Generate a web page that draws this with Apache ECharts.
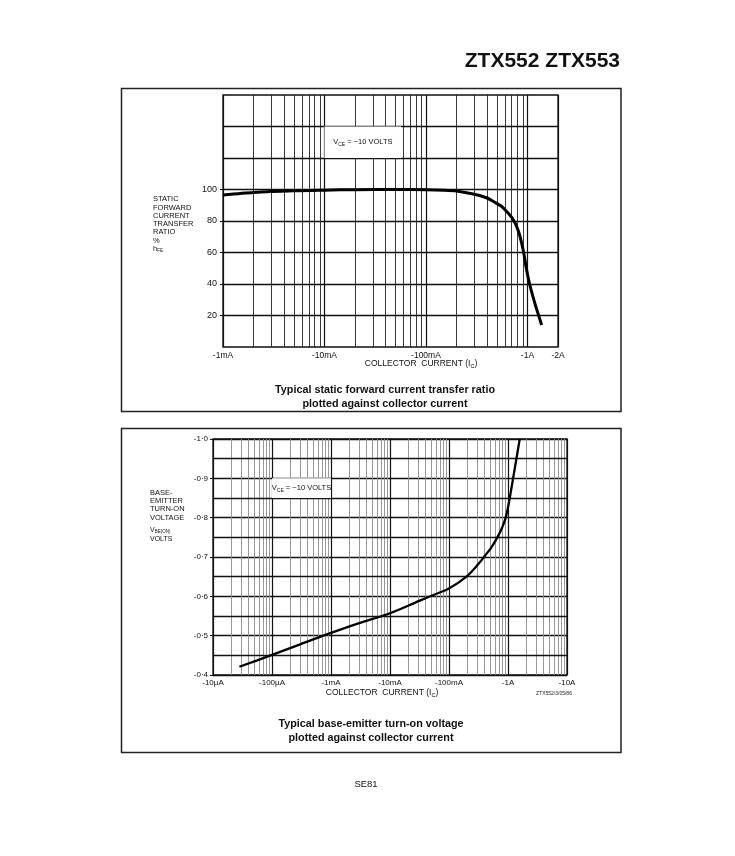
<!DOCTYPE html>
<html>
<head>
<meta charset="utf-8">
<script src="https://cdn.jsdelivr.net/npm/echarts@6/dist/echarts.min.js"></script>
<style>
  html, body { margin: 0; padding: 0; background: #fff; }
  #main { width: 735px; height: 856px; }
</style>
</head>
<body>
<div id="main"></div>
<script>
// hFE curve (collector current magnitude in A, ratio in %)
var hfeCurrent = [0.001, 0.002, 0.005, 0.01, 0.02, 0.05, 0.1, 0.15, 0.2, 0.3, 0.4, 0.47, 0.55, 0.63, 0.7, 0.76, 0.82, 0.88, 0.93, 0.97, 1.05, 1.19, 1.38];
var hfeRatio   = [96.5, 98.1, 99.2, 99.6, 99.9, 100, 99.9, 99.6, 99.1, 97, 94.6, 92.1, 89.5, 85.7, 82.3, 78.3, 73, 65.5, 58, 50.6, 40, 27.2, 14];
var hfeTicks   = [20, 40, 60, 80, 100];
var hfeGridExtra = [120, 140];

// VBE(on) curve (collector current magnitude in A, voltage magnitude in V)
var vbeCurrent = [0.000028, 0.0001, 0.0003, 0.001, 0.003, 0.01, 0.032, 0.06, 0.1, 0.2, 0.33, 0.4, 0.52, 0.66, 0.78, 0.914, 1.07, 1.22, 1.39, 1.58];
var vbeVolt    = [0.421, 0.451, 0.478, 0.507, 0.532, 0.557, 0.589, 0.606, 0.620, 0.651, 0.686, 0.702, 0.724, 0.75, 0.772, 0.8, 0.85, 0.9, 0.95, 1.0];
var vbeTicks   = [0.4, 0.5, 0.6, 0.7, 0.8, 0.9, 1.0];
var vbeGridExtra = [0.45, 0.55, 0.65, 0.75, 0.85, 0.95];

// minor log grid positions
var gridMultipliers = [2, 3, 4, 5, 6, 7, 8, 9];
var topDecades = [0.001, 0.01, 0.1];
var bottomDecades = [0.00001, 0.0001, 0.001, 0.01, 0.1, 1];

var FONT = 'Liberation Sans';

function gridLines(decades, extraY, minorColor) {
  var out = [];
  decades.forEach(function(d) {
    gridMultipliers.forEach(function(m) {
      out.push({ xAxis: +(d * m).toPrecision(3), lineStyle: { color: minorColor, width: 0.9 } });
    });
  });
  extraY.forEach(function(y) {
    out.push({ yAxis: y, lineStyle: { color: '#111', width: 1.3 } });
  });
  return out;
}

function fmtCurrent(v) {
  if (v >= 1) return '-' + Math.round(v) + 'A';
  if (v >= 1e-3) return '-' + Math.round(v * 1e3) + 'mA';
  return '-' + Math.round(v * 1e6) + 'µA';
}

function pairs(xs, ys) {
  return xs.map(function(x, i) { return [x, ys[i]]; });
}

var subRich = {
  a: { fontFamily: FONT, fontSize: 7.5, color: '#111' },
  s: { fontFamily: FONT, fontSize: 5, color: '#111', verticalAlign: 'bottom', padding: [4, 0, 0, 0] }
};

var chart = echarts.init(document.getElementById('main'));

var option = {
  animation: false,
  backgroundColor: '#fff',
  grid: [{
    left: 223, top: 95, width: 335, height: 252,
    show: true, borderColor: '#111', borderWidth: 1.3
  }, {
    left: 213, top: 439, width: 354, height: 236,
    show: true, borderColor: '#111', borderWidth: 1.3
  }],
  xAxis: [{
    gridIndex: 0, type: 'log', logBase: 10, min: 0.001, max: 2,
    axisLine: { show: false }, axisTick: { show: false },
    axisLabel: { formatter: fmtCurrent, fontFamily: FONT, fontSize: 8.5, color: '#111', margin: 4, hideOverlap: false },
    splitLine: { show: true, lineStyle: { color: '#111', width: 1.2 } },
    minorTick: { show: false }, minorSplitLine: { show: false }
  }, {
    gridIndex: 1, type: 'log', logBase: 10, min: 0.00001, max: 10,
    axisLine: { show: false }, axisTick: { show: false },
    axisLabel: { formatter: fmtCurrent, fontFamily: FONT, fontSize: 8, color: '#111', margin: 4, hideOverlap: false },
    splitLine: { show: true, lineStyle: { color: '#111', width: 1.2 } },
    minorTick: { show: false }, minorSplitLine: { show: false }
  }],
  yAxis: [{
    gridIndex: 0, type: 'value', min: 0, max: 160, interval: 20,
    axisLine: { show: false },
    axisTick: { show: true, length: 3, customValues: hfeTicks, lineStyle: { color: '#111' } },
    axisLabel: {
      fontFamily: FONT, fontSize: 9, color: '#111', margin: 6,
      customValues: hfeTicks,
      formatter: function(v) { return String(v); }
    },
    splitLine: { show: true, lineStyle: { color: '#111', width: 1.3 } }
  }, {
    gridIndex: 1, type: 'value', min: 0.4, max: 1.0, interval: 0.05,
    axisLine: { show: false },
    axisTick: { show: true, length: 3, customValues: vbeTicks, lineStyle: { color: '#111' } },
    axisLabel: {
      fontFamily: FONT, fontSize: 8, color: '#111', margin: 5,
      customValues: vbeTicks,
      formatter: function(v) { return '-' + v.toFixed(1).replace('.', '·'); }
    },
    splitLine: { show: true, lineStyle: { color: '#111', width: 1.3 } }
  }],
  series: [{
    name: 'hFE',
    type: 'line', xAxisIndex: 0, yAxisIndex: 0, z: 3,
    data: pairs(hfeCurrent, hfeRatio),
    showSymbol: false, smooth: 0.25, silent: true,
    lineStyle: { color: '#000', width: 3 },
    markLine: {
      z: 1, silent: true, symbol: ['none', 'none'], animation: false, precision: 10,
      label: { show: false },
      lineStyle: { type: 'solid', color: '#222', width: 0.9 },
      emphasis: { disabled: true },
      data: gridLines(topDecades, hfeGridExtra, '#222')
    },
    markArea: {
      z: 2, silent: true,
      itemStyle: { color: '#fff' },
      label: {
        show: true, position: 'inside',
        formatter: '{a|V}{s|CE}{a| = −10 VOLTS}',
        rich: subRich
      },
      data: [[{ coord: [0.01, 140] }, { coord: [0.057, 120] }]]
    }
  }, {
    name: 'VBE',
    type: 'line', xAxisIndex: 1, yAxisIndex: 1, z: 3,
    data: pairs(vbeCurrent, vbeVolt),
    showSymbol: false, smooth: 0.35, silent: true,
    lineStyle: { color: '#000', width: 2.3 },
    markLine: {
      z: 1, silent: true, symbol: ['none', 'none'], animation: false, precision: 10,
      label: { show: false },
      lineStyle: { type: 'solid', color: '#8c8c8c', width: 0.9 },
      emphasis: { disabled: true },
      data: gridLines(bottomDecades, vbeGridExtra, '#8c8c8c')
    },
    markArea: {
      z: 2, silent: true,
      itemStyle: { color: '#fff' },
      label: {
        show: true, position: 'inside',
        formatter: '{a|V}{s|CE}{a| = −10 VOLTS}',
        rich: subRich
      },
      data: [[{ coord: [0.0001, 0.9] }, { coord: [0.001, 0.85] }]]
    }
  }],
  graphic: [
    // page title
    { type: 'text', right: 115, top: 51, style: { text: 'ZTX552 ZTX553', fontFamily: FONT, fontSize: 21, fontWeight: 'bold', fill: '#111' } },
    // frames
    { type: 'rect', shape: { x: 121.5, y: 88.5, width: 499.5, height: 323 }, style: { fill: 'none', stroke: '#222', lineWidth: 1.5 }, z: -1 },
    { type: 'rect', shape: { x: 121.5, y: 428.5, width: 499.5, height: 324 }, style: { fill: 'none', stroke: '#222', lineWidth: 1.5 }, z: -1 },
    // top y-axis name
    { type: 'text', x: 153, y: 195, style: {
      text: 'STATIC\nFORWARD\nCURRENT\nTRANSFER\nRATIO\n%\n{a|h}{s|FE}',
      fontFamily: FONT, fontSize: 7.5, lineHeight: 8.3, fill: '#111',
      rich: { a: { fontFamily: FONT, fontSize: 7.5, lineHeight: 8.3 }, s: { fontFamily: FONT, fontSize: 4.5, verticalAlign: 'bottom', lineHeight: 8.3, padding: [3, 0, 0, 0] } }
    } },
    // bottom y-axis name
    { type: 'text', x: 150, y: 488.5, style: {
      text: 'BASE-\nEMITTER\nTURN-ON\nVOLTAGE',
      fontFamily: FONT, fontSize: 7.5, lineHeight: 8.3, fill: '#111'
    } },
    { type: 'text', x: 150, y: 526, style: {
      text: '{a|V}{s|BE(ON)}\nVOLTS',
      fontFamily: FONT, fontSize: 7, lineHeight: 8.6, fill: '#111',
      rich: { a: { fontFamily: FONT, fontSize: 7, lineHeight: 8.6 }, s: { fontFamily: FONT, fontSize: 4.5, verticalAlign: 'bottom', lineHeight: 8.6, padding: [3, 0, 0, 0] } }
    } },
    // x-axis titles
    { type: 'text', x: 421, y: 364, style: {
      text: '{a|COLLECTOR  CURRENT (I}{s|C}{a|)}', align: 'center', verticalAlign: 'middle',
      rich: { a: { fontFamily: FONT, fontSize: 8.5, fill: '#111' }, s: { fontFamily: FONT, fontSize: 5.5, verticalAlign: 'bottom', padding: [4, 0, 0, 0] } }
    } },
    { type: 'text', x: 382, y: 693, style: {
      text: '{a|COLLECTOR  CURRENT (I}{s|C}{a|)}', align: 'center', verticalAlign: 'middle',
      rich: { a: { fontFamily: FONT, fontSize: 8.5, fill: '#111' }, s: { fontFamily: FONT, fontSize: 5.5, verticalAlign: 'bottom', padding: [4, 0, 0, 0] } }
    } },
    { type: 'text', x: 554, y: 694, style: { text: 'ZTX552/3/05/86', align: 'center', verticalAlign: 'middle', fontFamily: FONT, fontSize: 5, fill: '#222' } },
    // captions
    { type: 'text', x: 385, y: 397, style: {
      text: 'Typical static forward current transfer ratio\nplotted against collector current',
      align: 'center', verticalAlign: 'middle', fontFamily: FONT, fontSize: 10.8, fontWeight: 'bold', lineHeight: 14, fill: '#111'
    } },
    { type: 'text', x: 371, y: 731, style: {
      text: 'Typical base-emitter turn-on voltage\nplotted against collector current',
      align: 'center', verticalAlign: 'middle', fontFamily: FONT, fontSize: 10.8, fontWeight: 'bold', lineHeight: 14, fill: '#111'
    } },
    // page footer
    { type: 'text', x: 366, y: 784, style: { text: 'SE81', align: 'center', verticalAlign: 'middle', fontFamily: FONT, fontSize: 9.5, fill: '#111' } }
  ]
};

chart.setOption(option);
</script>
</body>
</html>
